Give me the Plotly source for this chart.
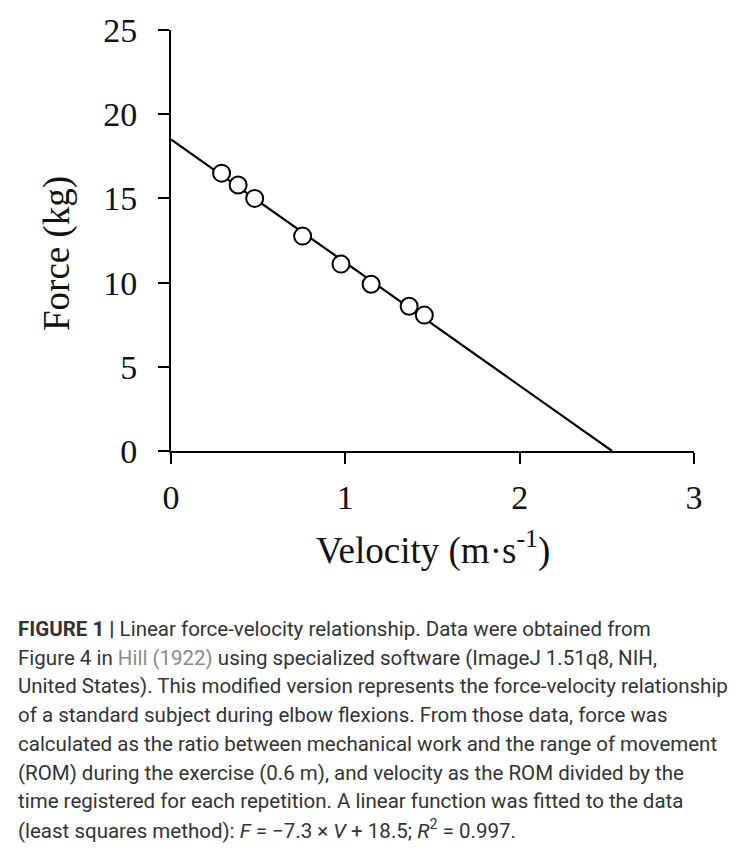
import plotly.graph_objects as go

# Data
velocity = [0.29, 0.385, 0.48, 0.755, 0.975, 1.148, 1.366, 1.453]
force = [16.5, 15.8, 15.0, 12.76, 11.1, 9.9, 8.6, 8.07]
fit_velocity = [0.0, 2.53]
fit_force = [18.5, 0.0]
x_ticks = [0, 1, 2, 3]
y_ticks = [0, 5, 10, 15, 20, 25]

caption_lines = [
    "<b>FIGURE 1 |</b> Linear force-velocity relationship. Data were obtained from",
    "Figure 4 in <span style='color:#8a8a8a'>Hill (1922)</span> using specialized software (ImageJ 1.51q8, NIH,",
    "United States). This modified version represents the force-velocity relationship",
    "of a standard subject during elbow flexions. From those data, force was",
    "calculated as the ratio between mechanical work and the range of movement",
    "(ROM) during the exercise (0.6 m), and velocity as the ROM divided by the",
    "time registered for each repetition. A linear function was fitted to the data",
    "(least squares method): <i>F</i> = \u22127.3 \u00d7 <i>V</i> + 18.5; <i>R</i><sup>2</sup> = 0.997.",
]

OFF = 8  # page body margin
W, H = 739 - OFF, 854 - OFF
# plot area in page pixels: x 171..694, y 30..451
L, T = 171 - OFF, 30 - OFF
R = W - (694 - OFF)
B = H - (451 - OFF)
plot_w = W - L - R
plot_h = H - T - B


def px_x(x):
    return (x - OFF - L) / plot_w


def px_y(y):
    return (H - B - (y - OFF)) / plot_h


fig = go.Figure()
fig.add_trace(go.Scatter(x=fit_velocity, y=fit_force, mode="lines",
                         line=dict(color="black", width=2.2), hoverinfo="skip",
                         showlegend=False, cliponaxis=False))
fig.add_trace(go.Scatter(x=velocity, y=force, mode="markers",
                         marker=dict(symbol="circle", size=17, color="white",
                                     line=dict(color="black", width=2)),
                         showlegend=False, cliponaxis=False))

serif = "Liberation Serif, Times New Roman, serif"
axis_common = dict(showline=True, linecolor="black", linewidth=2, ticks="outside",
                   ticklen=11, tickwidth=2, tickcolor="black", showgrid=False,
                   zeroline=False, automargin=False,
                   tickfont=dict(family=serif, size=34, color="#111"))
fig.update_xaxes(range=[0, 3], tickvals=x_ticks, ticklabelstandoff=4, **axis_common)
fig.update_yaxes(range=[0, 25], tickvals=y_ticks, ticklabelstandoff=14, **axis_common)

fig.add_annotation(text="Velocity (m\u00b7s<sup>-1</sup>)", xref="paper", yref="paper",
                   x=px_x(433), y=px_y(548), xanchor="center", yanchor="middle",
                   showarrow=False, font=dict(family=serif, size=37, color="#111"))
fig.add_annotation(text="Force (kg)", xref="paper", yref="paper", textangle=-90,
                   x=px_x(57), y=px_y(254), xanchor="center", yanchor="middle",
                   showarrow=False, font=dict(family=serif, size=37, color="#111"))

cap_font = dict(family="Roboto, Arial, sans-serif", size=20.5, color="#333333")
for i, line in enumerate(caption_lines):
    fig.add_annotation(text=line, xref="paper", yref="paper", x=px_x(16),
                       y=px_y(629 + i * 28.7), xanchor="left", yanchor="middle",
                       showarrow=False, align="left", font=cap_font)

fig.update_layout(width=W, height=H, margin=dict(l=L, r=R, t=T, b=B, autoexpand=False),
                  plot_bgcolor="white", paper_bgcolor="white", showlegend=False)

fig.write_html("out.html")
